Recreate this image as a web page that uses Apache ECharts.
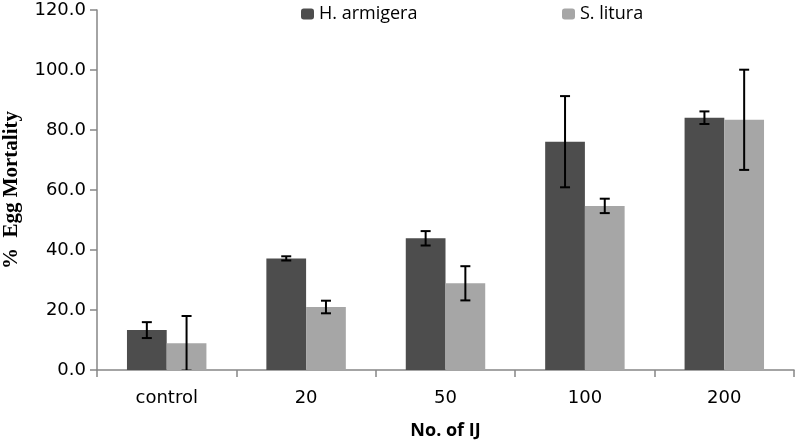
<!DOCTYPE html>
<html>
<head>
<meta charset="utf-8">
<script src="https://cdn.jsdelivr.net/npm/echarts@6/dist/echarts.min.js"></script>
<style>html,body{margin:0;padding:0;background:#fff;}#c{width:797px;height:440px;}</style>
</head>
<body>
<div id="c"></div>
<script>
var categories = ['control', '20', '50', '100', '200'];
var hArmigera = [13.3, 37.2, 43.9, 76.1, 84.1];
var hArmigeraErr = [2.65, 0.7, 2.4, 15.2, 2.1];
var sLitura = [8.9, 21.0, 28.9, 54.7, 83.4];
var sLituraErr = [9.1, 2.1, 5.7, 2.4, 16.7];
var yTicks = [0, 20, 40, 60, 80, 100, 120];

var chart = echarts.init(document.getElementById('c'), null, {renderer: 'canvas'});
var tickFont = 'DejaVu Sans';

function errData(means, errs) {
  return means.map(function (m, i) { return [i, m, errs[i]]; });
}
function errRender(sign) {
  return function (params, api) {
    var ci = api.value(0), v = api.value(1), e = api.value(2);
    var hi = api.coord([ci, v + e]);
    var lo = api.coord([ci, v - e]);
    var w = api.size([1, 0])[0];
    var x = hi[0] + sign * w * 0.1425;
    var cap = 5;
    var st = {stroke: '#000', lineWidth: 2};
    return {
      type: 'group',
      children: [
        {type: 'line', shape: {x1: x, y1: hi[1], x2: x, y2: lo[1]}, style: st},
        {type: 'line', shape: {x1: x - cap, y1: hi[1], x2: x + cap, y2: hi[1]}, style: st},
        {type: 'line', shape: {x1: x - cap, y1: lo[1], x2: x + cap, y2: lo[1]}, style: st}
      ]
    };
  };
}

var option = {
  animation: false,
  backgroundColor: '#fff',
  grid: {left: 97, right: 3, top: 10, bottom: 70, containLabel: false, outerBoundsMode: 'none'},
  legend: [
    {data: ['H. armigera'], left: 301, top: 5, padding: 0, itemWidth: 13, itemHeight: 11, itemGap: 4,
     textStyle: {fontFamily: 'Open Sans', fontSize: 18, color: '#000'}},
    {data: ['S. litura'], left: 562, top: 5, padding: 0, itemWidth: 13, itemHeight: 11, itemGap: 4,
     textStyle: {fontFamily: 'Open Sans', fontSize: 18, color: '#000'}}
  ],
  xAxis: {
    type: 'category',
    data: categories,
    name: 'No. of IJ',
    nameLocation: 'middle',
    nameGap: 52,
    nameTextStyle: {fontFamily: 'Open Sans', fontWeight: 'bold', fontSize: 18, color: '#000'},
    axisLine: {lineStyle: {color: '#868686', width: 1.5}},
    axisTick: {show: true, alignWithLabel: false, length: 7, lineStyle: {color: '#868686', width: 1.5}},
    axisLabel: {fontFamily: tickFont, fontSize: 18, color: '#000', margin: 19}
  },
  yAxis: {
    type: 'value',
    min: yTicks[0],
    max: yTicks[yTicks.length - 1],
    interval: 20,
    name: '%  Egg Mortality',
    nameLocation: 'middle',
    nameGap: 75,
    nameRotate: 90,
    nameTextStyle: {fontFamily: 'Liberation Serif', fontWeight: 'bold', fontSize: 21, color: '#000'},
    axisLine: {show: true, lineStyle: {color: '#868686', width: 1.5}},
    axisTick: {show: true, length: 7, lineStyle: {color: '#868686', width: 1.5}},
    splitLine: {show: false},
    axisLabel: {fontFamily: tickFont, fontSize: 18, color: '#000', margin: 11,
      formatter: function (v) { return v.toFixed(1); }}
  },
  series: [
    {name: 'H. armigera', type: 'bar', data: hArmigera, barGap: '0%', barCategoryGap: '43%',
     itemStyle: {color: '#4d4d4d'}},
    {name: 'S. litura', type: 'bar', data: sLitura, barGap: '0%', barCategoryGap: '43%',
     itemStyle: {color: '#a6a6a6'}},
    {type: 'custom', name: 'errH', data: errData(hArmigera, hArmigeraErr), renderItem: errRender(-1),
     clip: true, z: 10, encode: {x: 0, y: 1}, silent: true},
    {type: 'custom', name: 'errS', data: errData(sLitura, sLituraErr), renderItem: errRender(1),
     clip: true, z: 10, encode: {x: 0, y: 1}, silent: true}
  ]
};
chart.setOption(option);
</script>
</body>
</html>
